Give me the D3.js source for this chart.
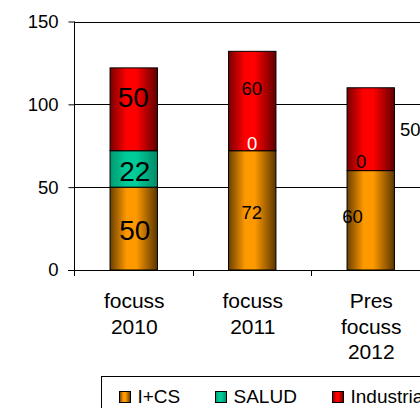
<!DOCTYPE html>
<html>
<head>
<meta charset="utf-8">
<script src="https://cdn.jsdelivr.net/npm/d3@7/dist/d3.min.js"></script>
<style>
  body { margin: 0; background: #fff; }
  svg { display: block; font-family: "Liberation Sans", Arial, sans-serif; }
</style>
</head>
<body>
<svg width="420" height="408"></svg>
<script>
var width = 420;
var height = 408;

// data
var categories = ["focuss 2010", "focuss 2011", "Pres focuss 2012"];
var seriesNames = ["I+CS", "SALUD", "Industria"];
var icsValues = [50, 72, 60];
var saludValues = [22, 0, 0];
var industriaValues = [50, 60, 50];
var yTicks = [0, 50, 100, 150];

// colours: [edge dark, bright, edge dark]
var seriesColors = [
    ["#6a4000", "#ff9900", "#5a3600"],
    ["#009a72", "#00cc99", "#008a66"],
    ["#7a0000", "#ff0000", "#600000"]
];

// label nudges (Excel labels were moved by hand), per series per category
var labelNudge = [
    [[1.5, 1.5], [0, 2], [-17.7, -3.6]],
    [[1.5, 1.5], [0.5, -7], [-9, -9]],
    [[0, -12.5], [0, -12.7], [40, 0]]
];
var labelSize = [28, 18.5, 18.5];

var rows = categories.map(function (c, i) {
    return { cat: c, "I+CS": icsValues[i], "SALUD": saludValues[i], "Industria": industriaValues[i] };
});
var stacked = d3.stack().keys(seriesNames)(rows);

var chart = d3.select("svg");

var x = d3.scaleBand().domain(categories).range([74, 429.5]).paddingInner(0.6).paddingOuter(0.3);
var y = d3.scaleLinear().domain([0, 150]).range([270, 21.5]);

// gradients
var defs = chart.append("defs");
seriesColors.forEach(function (c, i) {
    var g = defs.append("linearGradient").attr("id", "grad" + i)
        .attr("x1", 0).attr("x2", 1).attr("y1", 0).attr("y2", 0);
    g.append("stop").attr("offset", "0%").attr("stop-color", c[0]);
    g.append("stop").attr("offset", "35%").attr("stop-color", c[1]);
    g.append("stop").attr("offset", "55%").attr("stop-color", c[1]);
    g.append("stop").attr("offset", "100%").attr("stop-color", c[2]);
});

// gridlines
chart.append("g").selectAll("line")
    .data(yTicks.slice(1))
    .enter().append("line")
    .attr("x1", 74).attr("x2", width)
    .attr("y1", function (d) { return Math.round(y(d)) + 0.5; })
    .attr("y2", function (d) { return Math.round(y(d)) + 0.5; })
    .attr("stroke", "#000")
    .attr("stroke-width", 1);

// y axis
var yAxis = d3.axisLeft(y).tickValues(yTicks).tickSize(6).tickPadding(10);
var yg = chart.append("g").attr("transform", "translate(74.5,0)").call(yAxis);
yg.select(".domain").attr("stroke", "#000").attr("d", "M0," + y(150) + "V" + y(0));
yg.selectAll(".tick line").attr("stroke", "#000");
yg.selectAll(".tick text").attr("font-size", "18.5px").attr("fill", "#000")
    .attr("font-family", "Liberation Sans, Arial, sans-serif");

// bars
var layers = chart.append("g").selectAll("g")
    .data(stacked)
    .enter().append("g")
    .attr("fill", function (d, i) { return "url(#grad" + i + ")"; });

layers.selectAll("rect")
    .data(function (d) { return d.filter(function (p) { return p[1] - p[0] > 0; }); })
    .enter().append("rect")
    .attr("x", function (d) { return x(d.data.cat) + 0.5; })
    .attr("width", x.bandwidth())
    .attr("y", function (d) { return y(d[1]); })
    .attr("height", function (d) { return y(d[0]) - y(d[1]); })
    .attr("stroke", "#000")
    .attr("stroke-width", 1);

// x axis
var xAxisLine = chart.append("g");
xAxisLine.append("line")
    .attr("x1", 68).attr("x2", width)
    .attr("y1", Math.round(y(0)) + 0.5).attr("y2", Math.round(y(0)) + 0.5)
    .attr("stroke", "#000");
var step = x.step();
xAxisLine.selectAll(".cat-tick")
    .data(categories)
    .enter().append("line")
    .attr("class", "cat-tick")
    .attr("x1", function (d) { return Math.round(x(d) - step * 0.3) + 0.5; })
    .attr("x2", function (d) { return Math.round(x(d) - step * 0.3) + 0.5; })
    .attr("y1", y(0)).attr("y2", y(0) + 6)
    .attr("stroke", "#000");

// category labels, one word per line
var catLabels = chart.append("g").selectAll("text")
    .data(categories)
    .enter().append("text")
    .attr("x", function (d) { return x(d) + x.bandwidth() / 2 + 1; })
    .attr("y", 308)
    .attr("text-anchor", "middle")
    .attr("font-size", "21px")
    .attr("fill", "#000");
catLabels.each(function (d) {
    var t = d3.select(this);
    d.split(" ").forEach(function (w, i) {
        t.append("tspan")
            .attr("x", t.attr("x"))
            .attr("y", 308 + i * 25.7)
            .text(w);
    });
});

// data labels, drawn above all bars
var labelLayer = chart.append("g");
stacked.forEach(function (s, si) {
    labelLayer.append("g").selectAll("text")
        .data(s)
        .enter().append("text")
        .attr("x", function (d, ci) { return x(d.data.cat) + x.bandwidth() / 2 + labelNudge[si][ci][0]; })
        .attr("y", function (d, ci) { return (y(d[0]) + y(d[1])) / 2 + labelNudge[si][ci][1]; })
        .attr("dy", "0.36em")
        .attr("text-anchor", "middle")
        .attr("font-size", function (d, ci) { return labelSize[ci] + "px"; })
        .attr("fill", function (d, ci) { return (si === 1 && ci === 1) ? "#fff" : "#000"; })
        .text(function (d) { return d[1] - d[0]; });
});

// legend
var legend = chart.append("g");
legend.append("rect")
    .attr("x", 101.5).attr("y", 376.5)
    .attr("width", 340).attr("height", 40)
    .attr("fill", "#fff")
    .attr("stroke", "#000");
var legendX = [119.5, 215.5, 332.5];
var items = legend.selectAll("g")
    .data(seriesNames)
    .enter().append("g")
    .attr("transform", function (d, i) { return "translate(" + legendX[i] + ",391.5)"; });
items.append("rect")
    .attr("width", 11).attr("height", 11)
    .attr("fill", function (d, i) { return "url(#grad" + i + ")"; })
    .attr("stroke", "#000");
items.append("text")
    .attr("x", 18)
    .attr("y", 11.8)
    .attr("font-size", "19px")
    .attr("fill", "#000")
    .text(function (d) { return d; });
</script>
</body>
</html>
